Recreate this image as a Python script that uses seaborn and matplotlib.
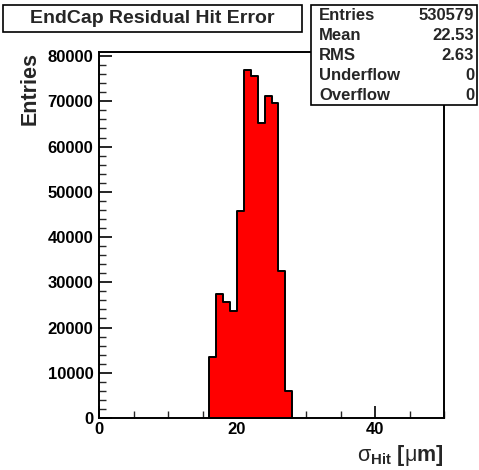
import numpy as np
import pandas as pd
import matplotlib
matplotlib.use("Agg")
import matplotlib.pyplot as plt
import seaborn as sns
from matplotlib.patches import Rectangle
from matplotlib.ticker import MultipleLocator

# ---- data ----
bin_edges = [16, 17, 18, 19, 20, 21, 22, 23, 24, 25, 26, 27, 28]
bin_counts = [13500, 27300, 25600, 23600, 45700, 77000, 75500, 65300, 71100, 69600, 32400, 6000]
stat_labels = ["Entries", "Mean", "RMS", "Underflow", "Overflow"]
stat_values = ["530579", "22.53", "2.63", "0", "0"]
title = "EndCap Residual Hit Error"
x_ticks = [0, 20, 40]
y_ticks = [0, 10000, 20000, 30000, 40000, 50000, 60000, 70000, 80000]

sns.set_style("white")
plt.rcParams["font.family"] = ["Liberation Sans", "DejaVu Sans"]
plt.rcParams["mathtext.fontset"] = "custom"
plt.rcParams["mathtext.rm"] = "Liberation Sans"
plt.rcParams["mathtext.it"] = "Liberation Sans"
plt.rcParams["mathtext.bf"] = "Liberation Sans:bold"

centers = [(bin_edges[i] + bin_edges[i + 1]) / 2 for i in range(len(bin_counts))]
df = pd.DataFrame({"sigma": centers, "w": bin_counts})

fig = plt.figure(figsize=(4.79, 4.70), dpi=100)
ax = fig.add_axes([99 / 479, 1 - 418 / 470, 345 / 479, 366 / 470])

sns.histplot(data=df, x="sigma", weights="w", bins=bin_edges, element="step",
             fill=True, color="#ff0000", alpha=1.0, edgecolor="black",
             linewidth=1.4, ax=ax)

ax.set_xlim(0, 50)
ax.set_ylim(0, 80900)
ax.set_xticks(x_ticks)
ax.set_yticks(y_ticks)
ax.set_xticklabels([str(v) for v in x_ticks])
ax.set_yticklabels([str(v) for v in y_ticks])
ax.xaxis.set_minor_locator(MultipleLocator(5))
ax.yaxis.set_minor_locator(MultipleLocator(2000))
ax.tick_params(axis="both", which="major", direction="in", length=9, width=1.2,
               labelsize=12, colors="black")
ax.tick_params(axis="both", which="minor", direction="in", length=5, width=1.0)
ax.tick_params(axis="x", which="both", top=False, bottom=True, pad=3)
ax.tick_params(axis="y", which="both", left=True, right=False, pad=4)
for lab in ax.get_xticklabels() + ax.get_yticklabels():
    lab.set_fontweight("bold")

for s in ax.spines.values():
    s.set_color("black")
    s.set_linewidth(1.4)

ax.set_ylabel("Entries", fontsize=15.5, fontweight="bold", loc="top", labelpad=5)
ax.set_xlabel(r"$\sigma_{\mathbf{Hit}}$ [$\mu$m]", fontsize=15.5, fontweight="bold",
              loc="right", labelpad=4)

# title box
fig.patches.append(Rectangle((3 / 479, 1 - 32 / 470), 299 / 479, 27 / 470,
                             transform=fig.transFigure, facecolor="white",
                             edgecolor="black", linewidth=1.2, zorder=5))
fig.text(152 / 479, 1 - 18.5 / 470, title, ha="center", va="center",
         fontsize=14, fontweight="bold", zorder=6)

# stats box
fig.patches.append(Rectangle((311 / 479, 1 - 105 / 470), 166 / 479, 100 / 470,
                             transform=fig.transFigure, facecolor="white",
                             edgecolor="black", linewidth=1.2, zorder=5))
for i, (l, v) in enumerate(zip(stat_labels, stat_values)):
    yy = 1 - (16 + 20 * i) / 470
    fig.text(319 / 479, yy, l, ha="left", va="center", fontsize=12,
             fontweight="bold", zorder=6)
    fig.text(474 / 479, yy, v, ha="right", va="center", fontsize=12,
             fontweight="bold", zorder=6)

fig.savefig("out.png", dpi=100)
